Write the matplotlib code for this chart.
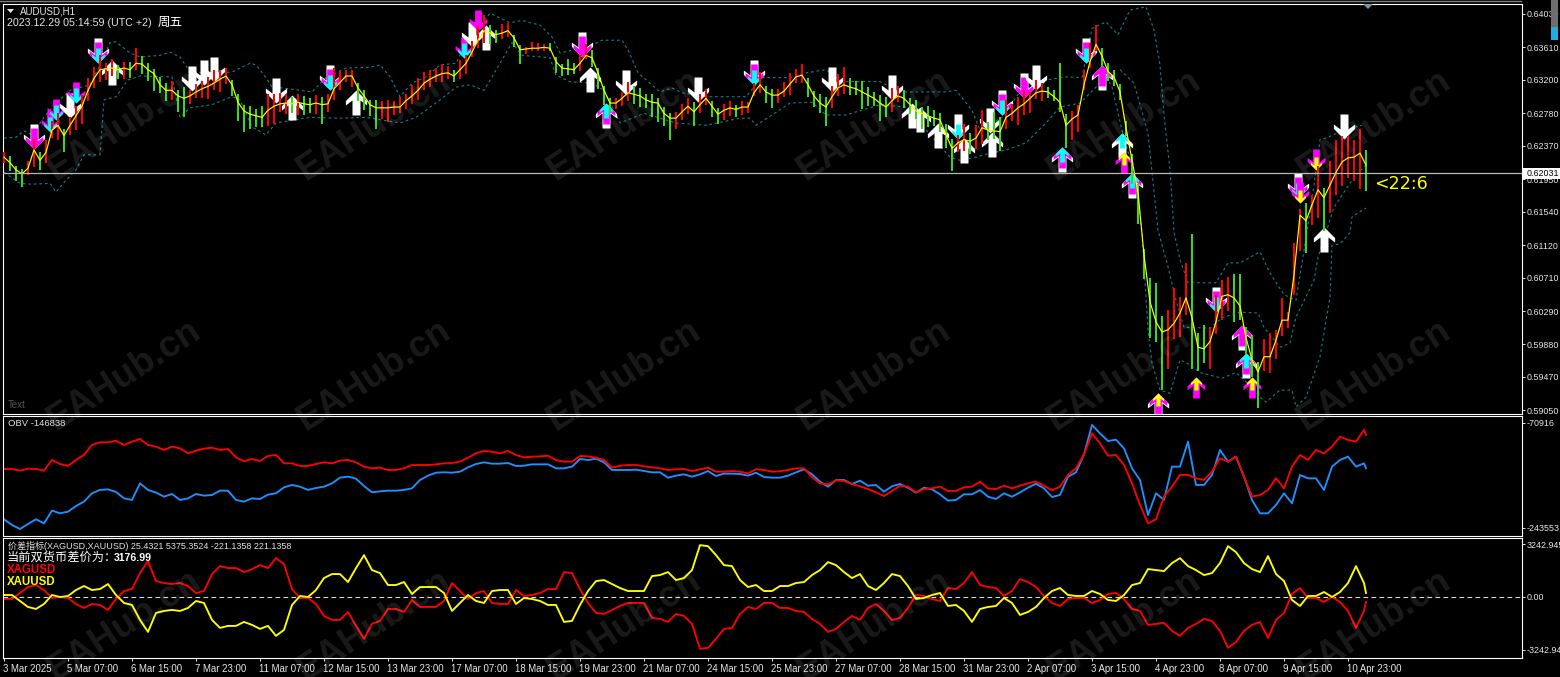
import numpy as np
import matplotlib
matplotlib.use("Agg")
import matplotlib.pyplot as plt
from matplotlib.path import Path
from matplotlib.patches import Rectangle, Polygon
from matplotlib.transforms import ScaledTranslation

W, H = 1560, 677
FONT = ['Liberation Sans', 'Noto Sans CJK SC', 'DejaVu Sans']
plt.rcParams['font.family'] = FONT

# ---------- price (1/10000 units) : one candle every 3 hourly bars ----------
close = [
 6223,6216,6207,6202,6209,6232,6219,6229,6257,6263,6250,6263,
 6275,6287,6307,6322,6333,6334,6335,6333,6335,6333,6341,6340,
 6333,6328,6314,6307,6307,6300,6297,6300,6305,6309,6312,6316,
 6321,6325,6314,6292,6281,6277,6275,6273,6282,6287,6290,6291,
 6290,6292,6290,6289,6291,6289,6290,6309,6317,6325,6325,6310,
 6300,6289,6285,6285,6285,6286,6286,6294,6300,6307,6316,6321,
 6325,6328,6329,6325,6333,6341,6355,6370,6382,6379,6377,6379,
 6382,6373,6358,6359,6360,6360,6361,6360,6343,6335,6334,6333,
 6341,6351,6348,6329,6307,6291,6291,6297,6304,6302,6300,6295,
 6292,6291,6278,6272,6272,6280,6287,6280,6289,6297,6287,6277,
 6282,6285,6283,6286,6286,6304,6314,6305,6301,6301,6306,6315,
 6324,6326,6314,6300,6291,6286,6299,6310,6314,6311,6309,6305,
 6301,6297,6291,6286,6294,6300,6297,6289,6281,6278,6275,6272,
 6270,6251,6234,6241,6245,6243,6247,6260,6257,6256,6255,6273,
 6278,6285,6290,6297,6304,6306,6305,6299,6292,6263,6271,6276,
 6314,6343,6365,6350,6331,6324,6305,6260,6219,6179,6100,6041,
 6016,6003,6006,6014,6027,6046,6021,5984,5982,5991,6016,6048,
 6050,6046,6036,5996,5968,5953,5972,5972,5993,6018,6018,6075,
 6150,6143,6163,6182,6172,6188,6204,6217,6222,6223,6228,6213]
wick_up = [
 6,8,5,6,9,14,10,16,12,15,8,10,
 12,14,16,14,19,8,12,6,8,10,19,10,
 8,6,10,9,12,8,14,8,10,10,12,16,
 12,10,6,10,8,10,8,14,20,16,14,12,
 8,10,10,8,10,10,12,26,14,8,8,6,
 8,6,10,8,10,8,12,8,14,16,14,12,
 10,12,8,8,12,10,14,18,20,10,6,12,
 10,4,6,3,8,6,4,6,6,5,12,8,
 10,14,10,6,6,6,6,8,14,10,10,8,
 10,6,8,6,8,10,10,12,14,12,6,8,
 8,8,6,8,6,12,16,8,8,8,12,14,
 10,14,8,6,12,12,14,18,22,12,10,14,
 10,8,10,12,16,12,10,8,14,8,12,10,
 8,14,12,10,20,10,16,22,10,24,18,22,
 12,14,18,8,16,10,6,8,49,14,10,12,
 18,24,24,10,10,8,10,8,8,10,8,30,
 49,20,25,45,20,44,105,18,30,18,34,20,
 22,30,40,14,30,12,22,30,12,28,10,40,
 8,22,12,30,12,30,40,32,28,22,30,19]
wick_down = [
 8,10,14,16,8,22,12,14,10,18,20,12,
 18,22,14,12,16,14,10,12,14,10,8,12,
 14,22,10,14,12,20,24,10,8,12,16,8,
 16,10,14,24,26,18,14,12,20,22,10,14,
 12,16,14,10,14,24,10,14,10,8,14,16,
 18,14,26,14,18,10,8,10,10,12,8,10,
 8,10,8,8,12,14,6,10,16,14,10,8,
 8,12,18,6,4,4,4,4,14,10,8,6,
 10,4,12,20,18,12,8,10,10,12,14,10,
 18,24,16,28,14,10,10,18,10,8,14,12,
 12,10,10,10,8,4,10,14,16,10,8,14,
 8,10,16,14,12,24,14,10,12,10,8,22,
 14,10,22,12,14,8,12,12,10,20,14,10,
 16,16,28,12,14,16,14,20,12,10,24,14,
 10,22,14,18,8,12,8,6,12,28,26,22,
 6,8,8,14,12,12,10,10,30,40,30,45,
 25,73,50,20,30,22,65,30,18,35,15,30,
 20,30,18,20,22,45,18,20,24,20,10,25,
 45,40,25,35,42,35,28,30,25,30,45,32]

# ---------- dashed envelope bands ----------
upper_bars = [
 0,6,10,14,20,26,33,43,50,53,
 56,63,68,78,83,88,93,104,114,118,
 123,126,131,134,139,154,161,171,183,188,
 193,198,204,211,218,226,231,243,253,259,
 268,274,278,285,294,299,309,312,317,328,
 334,339,351,371,379,393,401,411,419,438,
 448,471,476,484,488,499,511,521,531,539,
 544,551,557,563,571,575,578,580,583,585,
 588,592,606,612,618,628,633,640,646,650,
 654,658,661,670,679]
upper_band = [
 6247,6248,6256,6251,6273,6291,6307,6314,6349,6367,
 6368,6354,6349,6351,6355,6349,6330,6329,6330,6335,
 6341,6339,6323,6311,6310,6305,6323,6335,6336,6339,
 6324,6299,6316,6324,6339,6341,6367,6404,6392,6395,
 6389,6374,6354,6358,6364,6370,6370,6358,6329,6305,
 6310,6304,6299,6299,6323,6323,6329,6333,6318,6318,
 6305,6305,6307,6282,6257,6273,6316,6320,6324,6323,
 6385,6393,6377,6408,6412,6383,6339,6276,6207,6129,
 6094,6065,6065,6090,6090,6104,6077,6050,6043,6106,
 6169,6245,6247,6257,6263]
lower_bars = [
 0,8,14,23,26,31,36,40,48,50,
 56,62,68,84,88,93,104,114,118,124,
 131,136,153,168,181,198,206,218,226,233,
 240,248,254,259,273,276,283,294,300,308,
 320,336,351,368,373,376,384,393,404,411,
 421,438,451,473,478,486,493,501,511,521,
 528,538,546,551,554,559,566,569,572,574,
 578,583,588,593,598,609,616,623,628,631,
 638,644,646,651,658,663,664,668,673,674,
 681]
lower_band = [
 6204,6190,6189,6190,6179,6194,6207,6226,6226,6295,
 6299,6320,6325,6324,6273,6285,6289,6299,6295,6261,
 6251,6266,6273,6272,6273,6266,6273,6295,6311,6314,
 6307,6341,6367,6351,6348,6326,6318,6316,6307,6266,
 6278,6266,6263,6272,6272,6263,6276,6291,6292,6276,
 6276,6289,6286,6223,6219,6223,6228,6232,6241,6266,
 6286,6291,6311,6324,6311,6257,6194,6128,6006,5964,
 5930,5926,5968,5962,5952,5945,5952,5936,5921,5915,
 5930,5930,5909,5921,5972,6047,6112,6114,6128,6148,
 6159]
mid_bars = [558,565,572,577,582,586,590,603,609,618,627,630,638,643,646,655,657,665,675,681]
mid_band = [6333,6316,6253,6131,6085,6043,6009,6008,6021,6028,6027,6009,5984,5989,6022,6068,6097,6160,6198,6213]

# ---------- signal arrows: bar, price at the tip, colour layers ----------
down_bars = [15,23,26,33,36,47,94,100,105,136,163,230,234,237,289,311,347,375,414,444,
             477,493,499,510,516,541,606,647,648,656,670]
down_price = [6233,6255,6270,6272,6291,6341,6306,6314,6317,6291,6307,6348,6361,6382,6349,6301,6292,6314,6305,6295,
              6246,6253,6276,6297,6307,6341,6028,6172,6165,6207,6246]
down_style = ['wm','mc','mc','w','mc','wmc','w','w','w','w','wmc','mc','w','m','wm','w','w','wmc','w','w',
              'wc','w','wmc','wm','w','wmc','wmc','wmc','my','my','w']
up_bars = [54,144,176,241,293,301,454,458,467,480,494,529,549,559,560,564,577,596,619,621,624,660]
up_price = [6345,6301,6307,6389,6336,6291,6291,6286,6266,6247,6255,6236,6339,6253,6229,6203,5926,5946,6012,5977,5946,6135]
up_style = ['w','w','w','w','w','wmc','w','w','w','w','w','wmc','wm','wc','my','wmc','wmy','my','wm','wmc','my','w']

# ---------- OBV (thousands) : one point every 4 bars, then the last bar ----------
obv_red = [
 -146.5,-146.5,-149.3,-146,-146.5,-149.3,-131.7,-138.3,-141.6,-131.7,-123.5,-107.1,
 -102.7,-102.7,-100,-107.1,-101.6,-97.2,-107.1,-109.8,-115.3,-109.8,-112.6,-120.8,
 -116.4,-113.1,-111.5,-115.3,-113.7,-127.4,-133.9,-130.1,-133.4,-125.2,-123.5,-137.2,
 -137.2,-141.6,-141.6,-138.3,-135.6,-137.2,-132.8,-131.7,-135.6,-142.7,-145.4,-144.3,
 -148.2,-148.2,-145.4,-140,-140,-140,-138.9,-137.3,-136.7,-134.5,-128,-120.8,
 -117,-118.1,-120.8,-117,-123.6,-127.4,-126.3,-125.8,-124.7,-131.8,-134.5,-134.5,
 -125.2,-125.8,-128,-131.8,-144.4,-141.1,-140,-140,-142.2,-143.8,-145.5,-148.2,
 -147.1,-146.6,-149.9,-147.1,-144.4,-151,-151,-149.9,-151,-153.7,-147.1,-148.2,
 -151,-150.4,-148.2,-145.5,-145.5,-160.3,-170.1,-171.8,-165.2,-166.3,-171.2,-175,
 -179.5,-185,-191,-182.7,-174,-175.6,-185,-179.5,-178.4,-175.6,-182.7,-182.7,
 -176.7,-175.6,-167.4,-178.4,-179.5,-174,-178.4,-174,-170.1,-167.4,-174,-181.6,
 -175.6,-156.4,-145.5,-122.5,-88,-104.4,-124.7,-123.6,-140,-170.1,-205.8,-235.8,
 -229.3,-192,-175.6,-156.4,-156.4,-161.9,-164.6,-150.9,-129,-134.5,-126.2,-159.1,
 -192,-189.3,-181,-161.9,-178.3,-142.7,-123.5,-131.7,-115.3,-120.8,-109.8,-93.4,
 -98.8,-101.6,-82.4,-90.6]
obv_blue = [
 -229.3,-238.6,-245.2,-237,-229.3,-235.9,-215,-219.4,-216.7,-207.4,-200.2,-186.5,
 -181,-180,-184.3,-194.8,-197.5,-170.1,-181,-185.4,-192,-187.6,-197.5,-194.8,
 -187.6,-190.4,-189.3,-182.2,-182.2,-197.5,-200.2,-194.8,-195.9,-188.7,-186.5,-176.7,
 -172.8,-175.6,-181,-177.8,-175.6,-170.1,-160.8,-159.1,-162.4,-174.5,-184.9,-183.3,
 -182.2,-182.2,-181,-178.3,-164.6,-157.5,-152.6,-152,-152.6,-151,-143.8,-138.4,
 -135.6,-137.8,-137.8,-136.7,-141.6,-141.1,-138.9,-138.9,-138.9,-145.5,-145.5,-142.7,
 -130.1,-131.8,-129.6,-135.6,-148.2,-148.2,-148.2,-147.7,-149.9,-152,-152,-160.8,
 -157.5,-155.3,-159.2,-155.3,-149.9,-158.1,-154.2,-154.2,-154.8,-157.5,-152.6,-159.7,
 -160.8,-160.8,-157.5,-152,-147.1,-155.3,-167.4,-175.6,-164.7,-164.7,-171.2,-165.8,
 -174,-172.9,-183.8,-175,-171.2,-177.3,-185.5,-177.3,-180,-188.2,-198.6,-197.5,
 -188.2,-188.2,-181.1,-192.1,-195.9,-186.6,-192.1,-185,-177.3,-170.7,-178.4,-192.6,
 -189.3,-159.2,-152,-122.5,-74.2,-88,-100.5,-98.4,-112.6,-145.5,-164.7,-222.1,
 -186.5,-197.5,-142.7,-142.7,-101.6,-172.8,-172.8,-156.4,-115.3,-134.5,-126.2,-159.1,
 -197.5,-219.4,-219.4,-205.7,-186.5,-203,-156.4,-161.9,-161.9,-181,-142.7,-131.7,
 -126.2,-142.7,-137.2,-145.4]

# ---------- spread oscillator : one point every 4 bars, then the last bar ----------
xau_values = [
 122,122,-244,-610,-732,-427,122,0,61,427,671,427,
 488,793,122,-366,-488,-1403,-2135,-976,-854,-793,-854,-671,
 -244,-366,-1403,-1891,-1769,-1769,-1525,-1708,-1952,-1769,-2379,-2013,
 -488,61,0,427,1159,1403,1403,915,1769,2562,1647,1464,
 732,732,915,183,610,610,610,244,-854,-366,122,-244,
 -366,366,427,427,-427,-61,-122,-244,-488,-488,-1525,-1464,
 -488,366,976,1037,793,549,366,366,366,1281,1342,1525,
 1037,1159,1647,3172,3111,2562,1952,1891,1037,610,732,366,
 366,671,671,854,915,1342,1647,2135,1952,1525,1159,1403,
 671,427,854,1403,1281,671,-122,-61,122,244,-549,-488,
 -854,-1525,-732,-610,-549,-61,-366,-1098,-915,-610,-61,366,
 549,122,61,61,366,183,-183,-244,122,732,854,1708,
 1647,1586,2074,2379,1891,1647,1342,1464,2074,3111,2745,2074,
 1708,1525,2501,1403,976,-183,-549,61,61,305,0,305,
 854,1891,854,244]
xag_values = [
 -122,-122,244,610,732,427,-61,0,-61,-427,-671,-427,
 -488,-793,-122,366,488,1464,2196,976,854,793,854,671,
 244,366,1403,1891,1769,1769,1525,1708,1952,1769,2379,2013,
 488,-61,-61,-427,-1159,-1403,-1403,-915,-1769,-2562,-1647,-1464,
 -732,-732,-915,-183,-610,-610,-610,-244,854,366,-122,244,
 366,-366,-427,-427,427,61,122,244,488,488,1525,1464,
 488,-366,-976,-1037,-793,-549,-366,-366,-366,-1281,-1342,-1525,
 -1037,-1159,-1647,-3172,-3111,-2562,-1952,-1891,-1037,-610,-732,-366,
 -366,-671,-671,-854,-915,-1342,-1647,-2135,-1952,-1525,-1159,-1403,
 -671,-427,-854,-1403,-1281,-671,122,61,-122,-244,549,488,
 854,1525,732,610,549,61,366,1098,915,610,61,-366,
 -549,-122,-61,-61,-366,-183,183,244,-122,-732,-854,-1708,
 -1647,-1586,-2074,-2379,-1891,-1647,-1342,-1464,-2074,-3111,-2745,-2074,
 -1708,-1525,-2501,-1403,-976,183,549,-61,-61,-305,0,-305,
 -854,-1891,-854,-305]

# ---------- axis labels ----------
date_labels = ['3 Mar 2025','5 Mar 07:00','6 Mar 15:00','7 Mar 23:00','11 Mar 07:00','12 Mar 15:00',
               '13 Mar 23:00','17 Mar 07:00','18 Mar 15:00','19 Mar 23:00','21 Mar 07:00','24 Mar 15:00',
               '25 Mar 23:00','27 Mar 07:00','28 Mar 15:00','31 Mar 23:00','2 Apr 07:00','3 Apr 15:00',
               '4 Apr 23:00','8 Apr 07:00','9 Apr 15:00','10 Apr 23:00']
price_ticks = [0.6403,0.6361,0.6320,0.6278,0.6237,0.6195,0.6154,0.6112,0.6071,0.6029,0.5988,0.5947,0.5905]
current_price = 0.62031

# ---------- layout ----------
fig = plt.figure(figsize=(W/100, H/100), dpi=100, facecolor='black')

def panel(x0, y0, x1, y1):
    ax = fig.add_axes([x0/W, 1-y1/H, (x1-x0)/W, (y1-y0)/H], facecolor='black')
    for s in ax.spines.values():
        s.set_color('white'); s.set_linewidth(0.8)
    ax.set_xlim(-0.25, 758.75)
    ax.yaxis.tick_right()
    ax.tick_params(axis='y', colors='#e8e8e8', length=2.2, width=0.7, labelsize=6.4, pad=1.5)
    ax.set_xticks([])
    return ax

ax_p = panel(3.5, 3.5, 1521.5, 413.5)
ax_o = panel(3.5, 415.5, 1521.5, 535.5)
ax_s = panel(3.5, 537.5, 1521.5, 657.5)

ax_p.set_ylim(0.59006, 0.64162)
ax_o.set_ylim(-255900, -58600)
ax_s.set_ylim(-3703, 3641)

# ---------- price panel ----------
GAP = 1e-4
bars = np.arange(len(close)) * 3
c = np.array(close) * GAP
hi = c + np.array(wick_up) * GAP
lo = c - np.array(wick_down) * GAP
prev = np.r_[c[0], c[:-1]]
col = ['#ff0000' if a >= b else '#35d91f' for a, b in zip(c, prev)]

for b_list, v_list in ((upper_bars, upper_band), (lower_bars, lower_band), (mid_bars, mid_band)):
    ax_p.plot(b_list, np.array(v_list) * GAP, color='#0f8585', lw=0.8, ls=(0, (2.4, 2.6)), zorder=1)

head_up = [(0,0),(0.85,-0.85),(0.85,-1.2),(0.32,-0.8),(0.32,-2),(-0.32,-2),(-0.32,-0.8),(-0.85,-1.2),(-0.85,-0.85),(0,0)]
arrow_up = Path(head_up)
arrow_down = Path([(x, -y) for x, y in head_up])
layer_color = {'w': '#ffffff', 'm': '#ff00ff', 'c': '#00ffff', 'y': '#ffff00'}
layer_px = {'w': 25, 'm': 21, 'c': 15, 'y': 13}
for marker, b_list, v_list, st_list in ((arrow_down, down_bars, down_price, down_style),
                                        (arrow_up, up_bars, up_price, up_style)):
    for b, v, st in zip(b_list, v_list, st_list):
        for letter in st:
            ax_p.scatter([b], [v * GAP], marker=marker, s=(2 * layer_px[letter] * 0.72) ** 2,
                         color=layer_color[letter], linewidths=0, zorder=2)

ax_p.vlines(bars, lo, hi, colors=col, linewidth=1.1, antialiased=False, zorder=3)
ax_p.plot(bars, c, color='#ffff00', lw=0.85, zorder=4)
ax_p.axhline(current_price, color='#b8b8b8', lw=0.9, zorder=5)

ax_p.set_yticks(price_ticks)
ax_p.set_yticklabels([f'{t:.5f}' for t in price_ticks])

# ---------- OBV panel ----------
osc_bars = list(range(0, 681, 4)) + [681]
ax_o.plot(osc_bars, np.array(obv_blue) * 1000, color='#1e90ff', lw=1.35)
ax_o.plot(osc_bars, np.array(obv_red) * 1000, color='#ff0000', lw=1.35)
ax_o.set_yticks([-70916, -243553])
ax_o.set_yticklabels(['-70916', '-243553'])

# ---------- spread panel ----------
ax_s.axhline(0, color='#d8d8d8', lw=0.8, ls=(0, (4.2, 3)))
ax_s.plot(osc_bars, xag_values, color='#ff0000', lw=1.35)
ax_s.plot(osc_bars, xau_values, color='#ffff00', lw=1.35)
ax_s.set_yticks([3242.945, 0, -3242.945])
ax_s.set_yticklabels(['3242.945', '0.00', '-3242.94'])
ax_s.set_xticks(np.arange(len(date_labels)) * 32)
ax_s.set_xticklabels(date_labels, ha='left')
ax_s.tick_params(axis='x', colors='#e8e8e8', length=2.2, width=0.7, labelsize=6.9, pad=2.5)
shift = ScaledTranslation(-1/100, 0, fig.dpi_scale_trans)
for lab in ax_s.get_xticklabels():
    lab.set_transform(lab.get_transform() + shift)

# ---------- overlay in pixel coordinates ----------
ov = fig.add_axes([0, 0, 1, 1], facecolor='none')
ov.set_xlim(0, W); ov.set_ylim(H, 0); ov.axis('off')

ov.plot([0, 1521], [0.5, 0.5], color='#808080', lw=1)
ov.add_patch(Polygon([(7, 9), (14, 9), (10.5, 13)], color='#e8e8e8', lw=0))
ov.add_patch(Polygon([(1363, 4), (1373, 4), (1368, 9)], color='#7f93a3', lw=0))
ov.add_patch(Rectangle((1551, 0), 7, 27, color='#6e6e6e', lw=0))
ov.add_patch(Rectangle((1551, 27), 7, 13, color='#1eaee4', lw=0))
ov.add_patch(Rectangle((1523, 167.5), 37, 11, color='white', lw=0, zorder=3))
ov.text(1527, 173.5, f'{current_price:.5f}', color='black', fontsize=6.4, va='center', zorder=4)

def label(x, y, s, color='#e4e4e4', size=7.0, **kw):
    ov.text(x, y, s, color=color, fontsize=size, va='center', ha='left', family=FONT, **kw)

label(20, 11, 'AUDUSD,H1')
label(7, 23, '2023.12.29 05:14:59 (UTC +2)', size=7.7)
label(158, 23, '周五', color='white', size=9)
label(8, 405, 'Text', color='#555555')
label(8, 424, 'OBV -146838', size=6.8)
label(8, 546, '价差指标(XAGUSD,XAUUSD) 25.4321 5375.3524 -221.1358 221.1358', size=6.5)
label(7, 558, '当前双货币差价为：', color='white', size=8.8)
label(114, 558, '3176.99', color='white', size=7.6, weight='bold')
label(7, 570, 'XAGUSD', color='#ff0000', size=8.3, weight='bold')
label(7, 582, 'XAUUSD', color='#ffff00', size=8.3, weight='bold')
ov.text(1374, 184, '<22:6', color='#ffff00', fontsize=12.6, va='center', ha='left', family='DejaVu Sans')

for row in (125, 375, 625):
    for colm in range(6):
        ov.text(124 + 250 * colm, row, 'EAHub.cn', color='white', alpha=0.105, fontsize=26.5,
                weight='bold', rotation=33, ha='center', va='center', rotation_mode='anchor', zorder=6)

fig.savefig('out.png', dpi=100, facecolor='black')
